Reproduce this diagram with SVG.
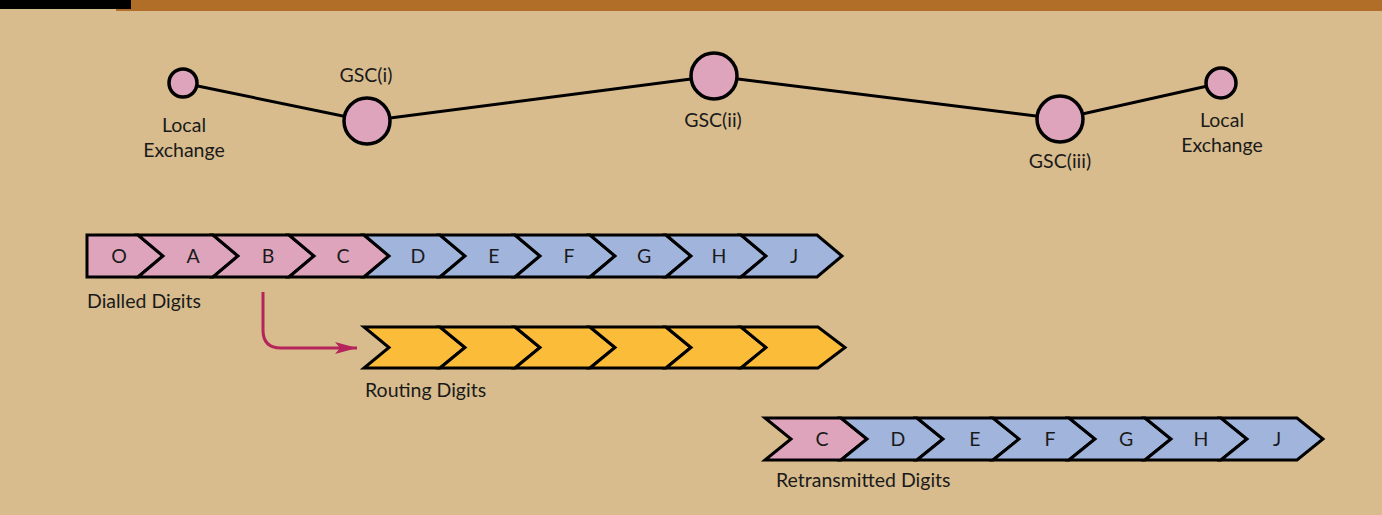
<svg xmlns="http://www.w3.org/2000/svg" width="1382" height="515" viewBox="0 0 1382 515">
<style>
.t{font-family:Lato,"Open Sans","Liberation Sans",sans-serif;font-size:19.5px;fill:#1a1a1a}
.c{text-anchor:middle}
.n{fill:#DEA4BC;stroke:#000;stroke-width:3.5}
.seg{stroke:#000;stroke-width:3;stroke-linejoin:miter}
.p{fill:#DEA4BC}
.b{fill:#A1B4DC}
.o{fill:#FBBC3A}
.ln{stroke:#000;stroke-width:3;fill:none}
</style>
<defs>
<marker id="ah" markerWidth="22" markerHeight="14" refX="22" refY="7" orient="auto" markerUnits="userSpaceOnUse">
<path d="M0,1 L22,7 L0,13 L5,7 Z" fill="#B5245A"/>
</marker>
</defs>
<rect x="0" y="0" width="1382" height="515" fill="#D8BC8D"/>
<rect x="116" y="0" width="1266" height="11" fill="#B06E28"/>
<rect x="0" y="0" width="131" height="9" fill="#000"/>

<g id="connectors">
<polyline class="ln" points="183,83 367,121 714,76 1060,119 1221,83"/>
<path d="M263,292 L263,330 Q263,348 281,348 L357,348" fill="none" stroke="#B5245A" stroke-width="3" marker-end="url(#ah)"/>
</g>

<g id="node-le1"><circle class="n" cx="183" cy="83" r="14"/><text class="t c" x="184" y="132">Local</text><text class="t c" x="184" y="157">Exchange</text></g>
<g id="node-gsc1"><circle class="n" cx="367" cy="121" r="23"/><text class="t c" x="366" y="82">GSC(i)</text></g>
<g id="node-gsc2"><circle class="n" cx="714" cy="76" r="23"/><text class="t c" x="713" y="127">GSC(ii)</text></g>
<g id="node-gsc3"><circle class="n" cx="1060" cy="119" r="23"/><text class="t c" x="1060" y="168">GSC(iii)</text></g>
<g id="node-le2"><circle class="n" cx="1221" cy="83" r="15"/><text class="t c" x="1222" y="127">Local</text><text class="t c" x="1222" y="152">Exchange</text></g>

<g id="dialled">
<polygon class="seg p" points="87,235 138,235 163,256 138,277 87,277"/>
<polygon class="seg p" points="138,235 213,235 238,256 213,277 138,277 163,256"/>
<polygon class="seg p" points="213,235 289,235 314,256 289,277 213,277 238,256"/>
<polygon class="seg p" points="289,235 364,235 389,256 364,277 289,277 314,256"/>
<polygon class="seg b" points="364,235 440,235 465,256 440,277 364,277 389,256"/>
<polygon class="seg b" points="440,235 515,235 540,256 515,277 440,277 465,256"/>
<polygon class="seg b" points="515,235 590,235 615,256 590,277 515,277 540,256"/>
<polygon class="seg b" points="590,235 666,235 691,256 666,277 590,277 615,256"/>
<polygon class="seg b" points="666,235 741,235 766,256 741,277 666,277 691,256"/>
<polygon class="seg b" points="741,235 817,235 842,256 817,277 741,277 766,256"/>
<text class="t c" x="119" y="263">O</text>
<text class="t c" x="193" y="263">A</text>
<text class="t c" x="268" y="263">B</text>
<text class="t c" x="343" y="263">C</text>
<text class="t c" x="418" y="263">D</text>
<text class="t c" x="494" y="263">E</text>
<text class="t c" x="569" y="263">F</text>
<text class="t c" x="644" y="263">G</text>
<text class="t c" x="719" y="263">H</text>
<text class="t c" x="794" y="263">J</text>
<text class="t" x="87" y="308">Dialled Digits</text>
</g>

<g id="routing">
<polygon class="seg o" points="364,327 440,327 465,347.5 440,368 364,368 389,347.5"/>
<polygon class="seg o" points="440,327 515,327 540,347.5 515,368 440,368 465,347.5"/>
<polygon class="seg o" points="515,327 590,327 615,347.5 590,368 515,368 540,347.5"/>
<polygon class="seg o" points="590,327 666,327 691,347.5 666,368 590,368 615,347.5"/>
<polygon class="seg o" points="666,327 741,327 766,347.5 741,368 666,368 691,347.5"/>
<polygon class="seg o" points="741,327 818,327 845,347.5 818,368 741,368 766,347.5"/>
<text class="t" x="365" y="397">Routing Digits</text>
</g>

<g id="retransmitted">
<polygon class="seg p" points="765,418 841,418 867,439 841,460 765,460 791,439"/>
<polygon class="seg b" points="841,418 917,418 943,439 917,460 841,460 867,439"/>
<polygon class="seg b" points="917,418 993,418 1019,439 993,460 917,460 943,439"/>
<polygon class="seg b" points="993,418 1069,418 1095,439 1069,460 993,460 1019,439"/>
<polygon class="seg b" points="1069,418 1145,418 1171,439 1145,460 1069,460 1095,439"/>
<polygon class="seg b" points="1145,418 1221,418 1247,439 1221,460 1145,460 1171,439"/>
<polygon class="seg b" points="1221,418 1297,418 1323,439 1297,460 1221,460 1247,439"/>
<text class="t c" x="822" y="446">C</text>
<text class="t c" x="898" y="446">D</text>
<text class="t c" x="975" y="446">E</text>
<text class="t c" x="1050" y="446">F</text>
<text class="t c" x="1126" y="446">G</text>
<text class="t c" x="1201" y="446">H</text>
<text class="t c" x="1277" y="446">J</text>
<text class="t" x="776" y="487">Retransmitted Digits</text>
</g>
</svg>
